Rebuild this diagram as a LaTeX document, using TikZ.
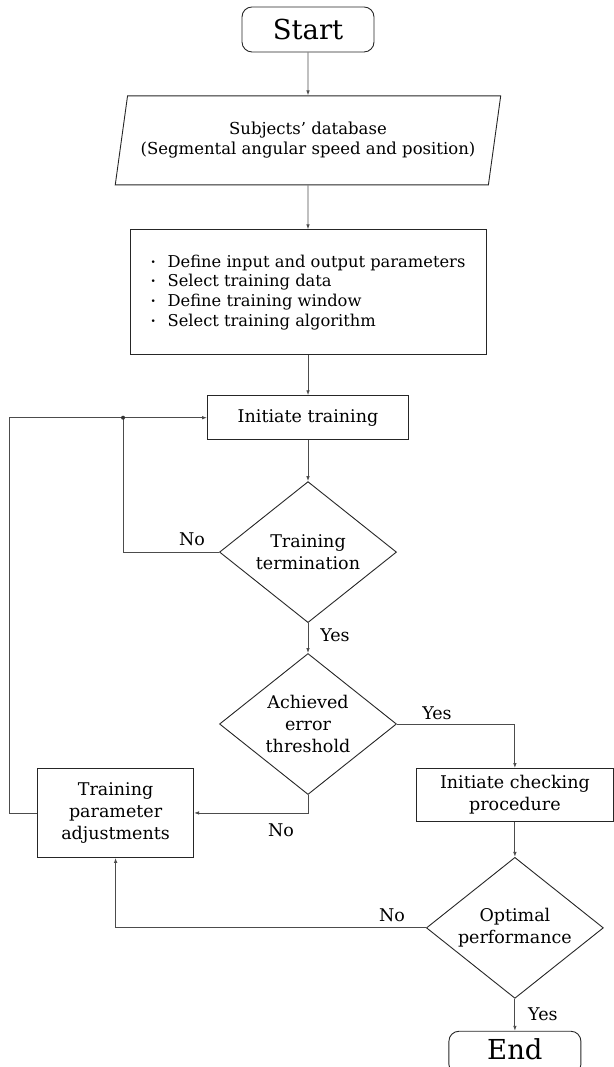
\documentclass[tikz,border=0pt]{standalone}
\usepackage{fontspec}
\setmainfont{DejaVu Serif}
\usetikzlibrary{arrows.meta, positioning, shapes.geometric}

\newcommand{\itm}{\makebox[17pt][l]{\raisebox{2pt}{\fontsize{9}{9}\selectfont\textbullet}}}

\begin{document}
\begin{tikzpicture}[
    x=1pt, y=1pt, >={Latex[length=5pt,width=3.6pt]},
    font=\fontsize{17.5}{22}\selectfont,
    termbox/.style={draw=black!85, line width=0.9pt, rounded corners=10pt,
                    minimum width=132pt, minimum height=45pt, inner sep=0pt,
                    font=\fontsize{27.5}{30}\selectfont},
    procbox/.style={draw=black!85, line width=0.9pt, align=center, inner sep=0pt},
    iobox/.style={draw=black!85, line width=0.9pt, trapezium,
                  trapezium left angle=72.5, trapezium right angle=107.5,
                  trapezium stretches=true, minimum width=386pt,
                  minimum height=89pt, align=center, inner sep=0pt,
                  font=\fontsize{16.5}{20}\selectfont},
    decision/.style={draw=black!85, line width=0.9pt, diamond, aspect=1.26,
                     minimum width=177pt, minimum height=141pt, inner sep=0pt,
                     align=center},
    conn/.style={draw=black!70, line width=0.9pt},
    lbl/.style={inner sep=0pt}
  ]
  \useasboundingbox (0,0) rectangle (613,1067);

  % main column
  \node[termbox] (start) at (308,1037.5) {Start};
  \node[iobox, below=43pt of start] (subjdb)
    {Subjects' database\\(Segmental angular speed and position)};
  \node[procbox, minimum width=356pt, minimum height=125pt, below=44pt of subjdb,
        align=left, font=\fontsize{16.3}{19.7}\selectfont] (setup)
    {\itm Define input and output parameters\\
     \itm Select training data\\
     \itm Define training window\\
     \itm Select training algorithm};
  \node[procbox, minimum width=201pt, minimum height=44pt,
        below=40pt of setup] (inittrain) {Initiate training};
  \node[decision, below=41pt of inittrain] (termchk) {Training\\termination};
  \node[decision, below=30pt of termchk] (errchk) {Achieved\\error\\threshold};

  % side branches
  \node[procbox, minimum width=156pt, minimum height=89pt,
        below left=44pt and 25pt of errchk.west] (adjust)
    {Training\\parameter\\adjustments};
  \node[procbox, minimum width=197pt, minimum height=53pt,
        below right=44pt and 19pt of errchk.east] (checking)
    {Initiate checking\\procedure};
  \node[decision, below=35pt of checking] (optchk) {Optimal\\performance};
  \node[termbox, minimum height=43pt, text depth=8pt,
        below=32pt of optchk] (stop) {End};

  % loop points
  \coordinate[left=84pt of inittrain.west] (loopjoin);
  \coordinate[left=28pt of adjust.west] (outerleft);

  \draw[conn,->] (start) -- (subjdb);
  \draw[conn,->] (subjdb) -- (setup);
  \draw[conn,->] (setup) -- (inittrain);
  \draw[conn,->] (inittrain) -- (termchk);
  \draw[conn,->] (termchk) -- (errchk);
  \draw[conn,->] (errchk.east) -| (checking.north);
  \draw[conn,->] (errchk.south) |- (adjust.east);
  \draw[conn,->] (checking) -- (optchk);
  \draw[conn,->] (optchk.west) -| (adjust.south);
  \draw[conn,->] (optchk) -- (stop);
  \draw[conn] (termchk.west) -| (loopjoin);
  \draw[conn,->] (loopjoin) -- (inittrain.west);
  \draw[conn] (adjust.west) -- (outerleft) |- (loopjoin);
  \fill[black!80] (loopjoin) circle (2pt);

  % branch labels
  \node[lbl] (noterm) at ([shift={(-27,13)}]termchk.west) {No};
  \node[lbl] (yesterm) at ([shift={(27,-12)}]termchk.south) {Yes};
  \node[lbl] (yeserr) at ([shift={(40,11)}]errchk.east) {Yes};
  \node[lbl] (noerr) at ([shift={(-27,-35)}]errchk.south) {No};
  \node[lbl] (noopt) at ([shift={(-34,13)}]optchk.west) {No};
  \node[lbl] (yesopt) at ([shift={(28,-15)}]optchk.south) {Yes};
\end{tikzpicture}
\end{document}
